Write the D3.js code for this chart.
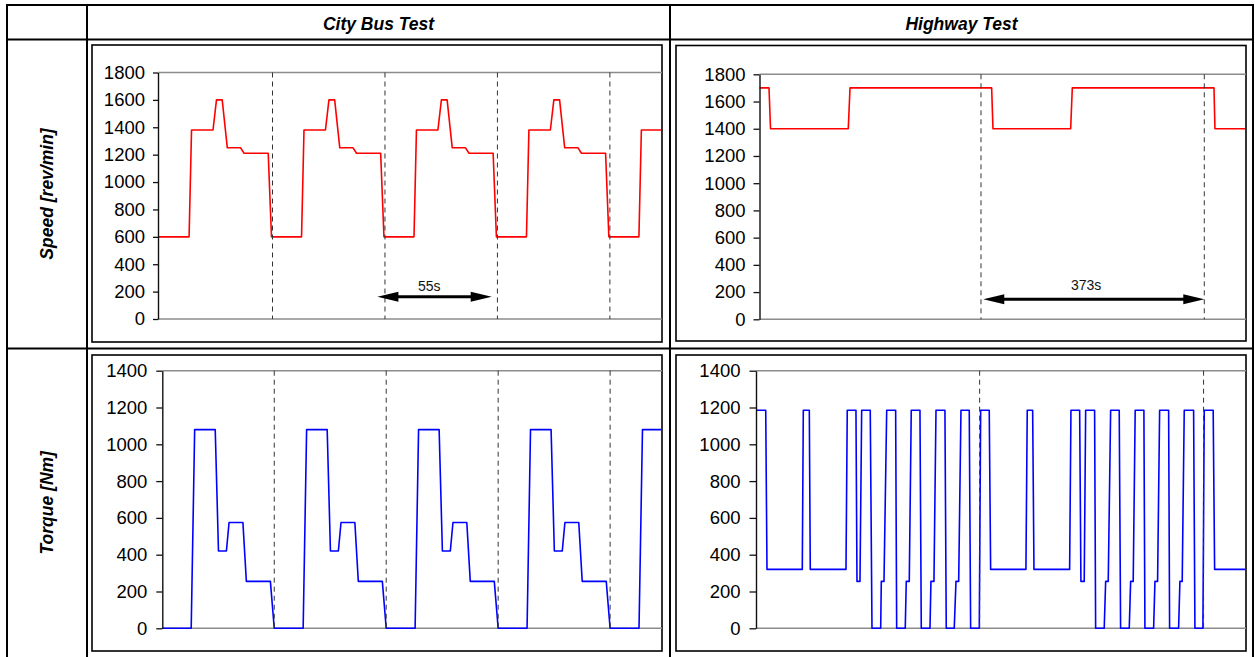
<!DOCTYPE html>
<html>
<head>
<meta charset="utf-8">
<script src="https://cdn.jsdelivr.net/npm/d3@7/dist/d3.min.js"></script>
<style>
  html, body { margin: 0; padding: 0; background: #fff; }
  svg { display: block; font-family: "Liberation Sans", Arial, sans-serif; }
</style>
</head>
<body>
<svg id="fig" width="1255" height="657"></svg>
<script>
// ---- data ----
var colTitles = ["City Bus Test", "Highway Test"];
var rowTitles = ["Speed [rev/min]", "Torque [Nm]"];

var speedTicks = [0, 200, 400, 600, 800, 1000, 1200, 1400, 1600, 1800];
var torqueTicks = [0, 200, 400, 600, 800, 1000, 1200, 1400];

// cycle boundaries (s)
var cityCycleEnds = [55, 110, 165, 220];
var highwayCycleEnds = [370, 743];

// [time s, speed rev/min]
var citySpeed = [
  [-1,600],[14.2,600],[15.4,1380],[25.9,1380],[27.6,1600],[30.4,1600],[32.9,1250],[39.4,1250],[41.1,1210],[52.9,1210],[54.5,600],
  [69.2,600],[70.4,1380],[80.9,1380],[82.6,1600],[85.4,1600],[87.9,1250],[94.4,1250],[96.1,1210],[107.9,1210],[109.5,600],
  [124.2,600],[125.4,1380],[135.9,1380],[137.6,1600],[140.4,1600],[142.9,1250],[149.4,1250],[151.1,1210],[162.9,1210],[164.5,600],
  [179.2,600],[180.4,1380],[190.9,1380],[192.6,1600],[195.4,1600],[197.9,1250],[204.4,1250],[206.1,1210],[217.9,1210],[219.5,600],
  [234.2,600],[235.4,1380],[245,1380]
];

// [time s, torque Nm]
var cityTorque = [
  [0,0],[14.2,0],[15.9,1080],[26,1080],[27.6,420],[31.5,420],[32.8,575],[39.6,575],[41.3,255],[53.1,255],[55,0],
  [69.2,0],[70.9,1080],[81,1080],[82.6,420],[86.5,420],[87.8,575],[94.6,575],[96.3,255],[108.1,255],[110,0],
  [124.2,0],[125.9,1080],[136,1080],[137.6,420],[141.5,420],[142.8,575],[149.6,575],[151.3,255],[163.1,255],[165,0],
  [179.2,0],[180.9,1080],[191,1080],[192.6,420],[196.5,420],[197.8,575],[204.6,575],[206.3,255],[218.1,255],[220,0],
  [234.2,0],[235.9,1080],[245,1080]
];

var highwaySpeed = [
  [0,1700],[15.9,1700],[18.4,1400],[148.3,1400],[151.2,1700],[387.8,1700],[390,1400],
  [519.8,1400],[522.5,1700],[759.2,1700],[760.8,1400],[811,1400]
];

var highwayTorque = [
  [-2.5,1185],[13.7,1185],[15.8,320],[74.6,320],[76.3,1185],[86.3,1185],[87.9,320],[147.4,320],[149.5,1185],
  [164,1185],[165.7,255],[170.7,255],[173.5,1185],[187.8,1185],[190.7,0],[205.2,0],[206.2,255],[210.7,255],[215.2,1185],
  [230.1,1185],[231.8,0],[246.1,0],[247.8,255],[252.8,255],[256.1,1185],[270.6,1185],[272.8,0],[287.3,0],[288.9,255],
  [293.9,255],[297.3,1185],[312.2,1185],[314.4,0],[327.7,0],[330.6,255],[335.1,255],[338.9,1185],[352.7,1185],[355,0],
  [369.4,0],[371.7,1185],[386,1185],[388.3,320],[447.1,320],[449.3,1185],[458.3,1185],[460.5,320],[519.9,320],[522.1,1185],
  [536.6,1185],[538.7,255],[544.2,255],[546.6,1185],[561.5,1185],[563.2,0],[577.5,0],[579.9,255],[584.2,255],[588.2,1185],
  [602.5,1185],[604.8,0],[619.2,0],[621.5,255],[625.8,255],[629.1,1185],[643.6,1185],[645.3,0],[659.8,0],[662,255],
  [666.4,255],[669.8,1185],[684.8,1185],[686.4,0],[701.4,0],[703.6,255],[707.4,255],[710.8,1185],[726.4,1185],[728.6,0],
  [741.9,0],[744.1,1185],[759,1185],[761.4,320],[812,320]
];

// duration arrows: [from s, to s, level], label [centre s, level, text]
var cityArrow = [106.3, 162.2, 163];
var cityArrowLabel = [131.7, 207, "55s"];
var highwayArrow = [373.8, 743, 147];
var highwayArrowLabel = [545.7, 212, "373s"];

// ---- layout ----
var svg = d3.select("#fig");

var panels = [
  { frame: [92, 45, 662, 342], plot: {l: 158, r: 661, t: 72.5, b: 319}, domain: [-1, 245],
    ticks: speedTicks, tickLen: 5, pad: 8, data: citySpeed, color: "#ff0000", bounds: cityCycleEnds,
    arrow: cityArrow, label: cityArrowLabel },
  { frame: [676, 45.5, 1246, 341], plot: {l: 759.5, r: 1245, t: 74.3, b: 319.3}, domain: [0, 811],
    ticks: speedTicks, tickLen: 6, pad: 8, data: highwaySpeed, color: "#ff0000", bounds: highwayCycleEnds,
    arrow: highwayArrow, label: highwayArrowLabel },
  { frame: [92, 355, 662, 651], plot: {l: 162.3, r: 661, t: 370.7, b: 628.3}, domain: [0, 245],
    ticks: torqueTicks, tickLen: 6, pad: 9, data: cityTorque, color: "#0000ff", bounds: cityCycleEnds },
  { frame: [676, 355, 1246, 651], plot: {l: 756, r: 1245, t: 370.7, b: 628.3}, domain: [-2.5, 812],
    ticks: torqueTicks, tickLen: 6.5, pad: 9, data: highwayTorque, color: "#0000ff", bounds: highwayCycleEnds }
];

function drawPanel(p) {
  var g = svg.append("g");
  g.append("rect")
   .attr("x", p.frame[0]).attr("y", p.frame[1])
   .attr("width", p.frame[2] - p.frame[0]).attr("height", p.frame[3] - p.frame[1])
   .attr("fill", "#fff").attr("stroke", "#000").attr("stroke-width", 1.6);

  var x = d3.scaleLinear().domain(p.domain).range([p.plot.l, p.plot.r]),
      y = d3.scaleLinear().domain([0, d3.max(p.ticks)]).range([p.plot.b, p.plot.t]);

  // plot area top / bottom edges
  [0, d3.max(p.ticks)].forEach(function(v) {
    g.append("line")
     .attr("x1", p.plot.l).attr("x2", p.plot.r + 1)
     .attr("y1", y(v)).attr("y2", y(v))
     .attr("stroke", "#8c8c8c").attr("stroke-width", 1.5);
  });

  g.append("path")
   .datum(p.data)
   .attr("fill", "none")
   .attr("stroke", p.color)
   .attr("stroke-width", 1.6)
   .attr("stroke-linejoin", "round")
   .attr("d", d3.line().x(function(d) { return x(d[0]); }).y(function(d) { return y(d[1]); }));

  // cycle separators
  g.selectAll(".cyc")
   .data(p.bounds)
   .enter().append("line")
   .attr("class", "cyc")
   .attr("x1", function(d) { return x(d); }).attr("x2", function(d) { return x(d); })
   .attr("y1", y(d3.max(p.ticks))).attr("y2", y(0))
   .attr("stroke", "#333").attr("stroke-width", 1)
   .attr("stroke-dasharray", "5,4");

  var ax = g.append("g")
   .attr("transform", "translate(" + p.plot.l + ",0)")
   .call(d3.axisLeft(y).tickValues(p.ticks).tickFormat(d3.format("d"))
           .tickSize(p.tickLen).tickPadding(p.pad).tickSizeOuter(0));
  ax.select(".domain").attr("stroke", "#111").attr("stroke-width", 1.4);
  ax.selectAll(".tick line").attr("stroke", "#111").attr("stroke-width", 1.3);
  ax.selectAll(".tick text")
    .attr("fill", "#000")
    .attr("font-size", "18.5px")
    .attr("font-family", "'Liberation Sans', Arial, sans-serif");

  if (p.arrow) {
    var x1 = x(p.arrow[0]), x2 = x(p.arrow[1]), ya = y(p.arrow[2]);
    g.append("line")
     .attr("x1", x1 + 12).attr("x2", x2 - 12).attr("y1", ya).attr("y2", ya)
     .attr("stroke", "#000").attr("stroke-width", 3);
    g.append("path")
     .attr("d", "M" + x1 + "," + ya + "L" + (x1 + 21) + "," + (ya - 5) + "L" + (x1 + 21) + "," + (ya + 5) + "Z" +
                "M" + x2 + "," + ya + "L" + (x2 - 21) + "," + (ya - 5) + "L" + (x2 - 21) + "," + (ya + 5) + "Z")
     .attr("fill", "#000");
    g.append("text")
     .attr("x", x(p.label[0])).attr("y", y(p.label[1]))
     .attr("text-anchor", "middle")
     .attr("font-size", "14px")
     .attr("fill", "#111")
     .text(p.label[2]);
  }
}

panels.forEach(drawPanel);

// ---- table grid ----
var hLines = [5, 39.5, 348.5],
    vLines = [7, 87, 670, 1253];
hLines.forEach(function(yy) {
  svg.append("line").attr("x1", 6).attr("x2", 1254).attr("y1", yy).attr("y2", yy)
     .attr("stroke", "#000").attr("stroke-width", 2);
});
vLines.forEach(function(xx) {
  svg.append("line").attr("x1", xx).attr("x2", xx).attr("y1", 4).attr("y2", 657)
     .attr("stroke", "#000").attr("stroke-width", 2);
});

// column headers
svg.selectAll(".colTitle")
   .data(colTitles)
   .enter().append("text")
   .attr("class", "colTitle")
   .attr("x", function(d, i) { return (vLines[i + 1] + vLines[i + 2]) / 2; })
   .attr("y", 29.5)
   .attr("text-anchor", "middle")
   .attr("font-size", "17.5px")
   .attr("font-weight", "bold")
   .attr("font-style", "italic")
   .attr("fill", "#000")
   .text(function(d) { return d; });

// row headers
var rowMid = [(hLines[1] + hLines[2]) / 2, (hLines[2] + 657) / 2];
svg.selectAll(".rowTitle")
   .data(rowTitles)
   .enter().append("text")
   .attr("class", "rowTitle")
   .attr("transform", function(d, i) { return "translate(47," + rowMid[i] + ") rotate(-90)"; })
   .attr("text-anchor", "middle")
   .attr("dy", "0.35em")
   .attr("font-size", "17.5px")
   .attr("font-weight", "bold")
   .attr("font-style", "italic")
   .attr("fill", "#000")
   .text(function(d) { return d; });
</script>
</body>
</html>
